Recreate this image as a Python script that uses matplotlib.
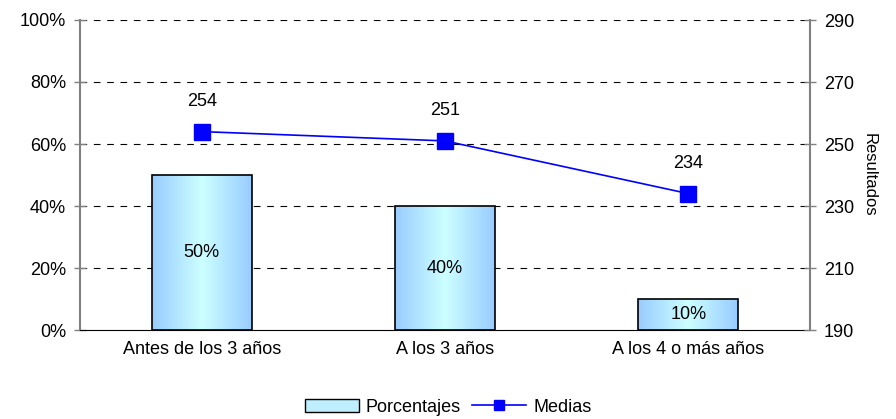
import matplotlib
matplotlib.use("Agg")
import matplotlib.pyplot as plt
import numpy as np
from matplotlib.colors import LinearSegmentedColormap
from matplotlib.patches import Rectangle
from matplotlib.lines import Line2D

categories = ["Antes de los 3 años", "A los 3 años", "A los 4 o más años"]
porcentajes = [50, 40, 10]
medias = [254, 251, 234]
left_ticks = [0, 20, 40, 60, 80, 100]
right_ticks = [190, 210, 230, 250, 270, 290]

plt.rcParams['font.family'] = ['Liberation Sans', 'DejaVu Sans']
FS = 13

fig = plt.figure(figsize=(8.96, 4.19), dpi=100)
ax = fig.add_axes([80/896, 1-330/419, 730/896, 310/419])
ax2 = ax.twinx()

x = np.arange(len(categories))
width = 0.41

cmap = LinearSegmentedColormap.from_list("g", ["#99ccff", "#ccffff", "#99ccff"])
grad = np.linspace(0, 1, 256).reshape(1, -1)

bars = ax.bar(x, porcentajes, width=width, facecolor="none", edgecolor="black", linewidth=1.2, zorder=3)
for b in bars:
    x0, y0 = b.get_x(), b.get_y()
    w, h = b.get_width(), b.get_height()
    im = ax.imshow(grad, cmap=cmap, extent=[x0, x0 + w, y0, y0 + h], aspect="auto", zorder=2)
    im.set_clip_path(b)
for xi, v in zip(x, porcentajes):
    ax.text(xi, v / 2, f"{v}%", ha="center", va="center", fontsize=FS, zorder=4)

ax.set_xlim(-0.5, 2.5)
ax.set_ylim(0, 100)
ax.set_yticks(left_ticks)
ax.set_yticklabels([f"{t}%" for t in left_ticks], fontsize=FS)
ax.set_xticks(x)
ax.set_xticklabels(categories, fontsize=FS)
ax.tick_params(axis="x", length=0, pad=8)
ax.tick_params(axis="y", direction="inout", length=8, width=1, color="#808080", pad=6)
for t in left_ticks[1:]:
    ax.axhline(t, color="black", linestyle=(0, (6, 6)), linewidth=0.8, zorder=1)
ax.spines["top"].set_visible(False)
ax.spines["left"].set_color("#808080")
ax.spines["left"].set_linewidth(1.5)
ax.spines["right"].set_visible(False)
ax.spines["bottom"].set_color("black")

ax2.plot(x, medias, color="#0000ff", linewidth=1.2, marker="s", markersize=11,
         markerfacecolor="#0000ff", markeredgecolor="#0000ff", zorder=5)
for xi, v in zip(x, medias):
    ax2.annotate(f"{v}", (xi, v), xytext=(0, 22), textcoords="offset points", ha="center",
                 va="center", fontsize=FS)
ax2.set_ylim(190, 290)
ax2.set_yticks(right_ticks)
ax2.set_yticklabels([str(t) for t in right_ticks], fontsize=FS)
ax2.tick_params(axis="y", direction="inout", length=8, width=1, color="#808080", pad=6)
ax2.spines["top"].set_visible(False)
ax2.spines["left"].set_visible(False)
ax2.spines["bottom"].set_visible(False)
ax2.spines["right"].set_color("#808080")
ax2.spines["right"].set_linewidth(1.5)
ax2.set_ylabel("Resultados", rotation=270, fontsize=FS - 1, labelpad=16)

handles = [Rectangle((0, 0), 1, 1, facecolor="#bfefff", edgecolor="black", linewidth=1),
           Line2D([0], [0], color="#0000ff", marker="s", markersize=7, linewidth=1.2)]
fig.legend(handles, ["Porcentajes", "Medias"], loc="center", bbox_to_anchor=(0.5, 1-407/419),
           ncol=2, frameon=False, fontsize=FS, handlelength=3.0, columnspacing=0.6, handletextpad=0.4)

fig.savefig("out.png", dpi=100)
